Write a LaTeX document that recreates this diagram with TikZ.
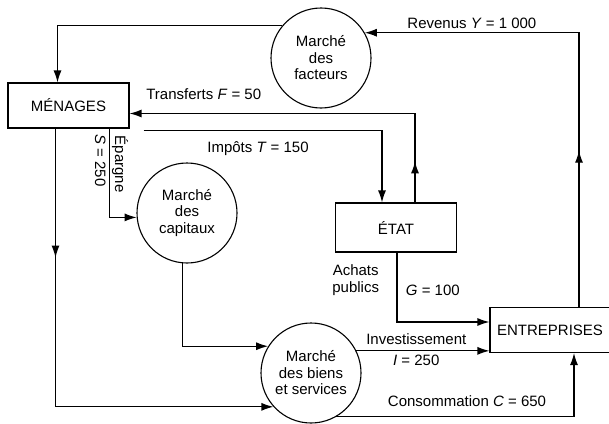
\documentclass[tikz,border=0pt]{standalone}
\usepackage{fontspec}
\setmainfont{Liberation Sans}
\usepackage{tikz}
\usetikzlibrary{shapes.geometric, arrows.meta, positioning, decorations.markings}

\begin{document}
\begin{tikzpicture}[x=1pt, y=-1pt, font=\fontsize{15}{16.5}\selectfont]
\tikzstyle{agent} = [rectangle, draw=black, line width=1.1pt, minimum width=121pt, minimum height=45pt, text centered]
\tikzstyle{market} = [circle, draw=black, line width=1.1pt, minimum size=100pt, align=center, inner sep=0pt]
\tikzstyle{flow} = [line width=1.2pt, -{Latex[length=12pt,width=8pt]}]
\tikzset{midarrow/.style={postaction={decorate}, decoration={markings, mark=at position #1 with {\arrow{Latex[length=12pt,width=8pt]}}}}}

\useasboundingbox (0,0) rectangle (609,423);

\node (menages) [agent] at (68.5,105.5) {MÉNAGES};
\node (facteurs) [market] at (321,58) {Marché\\des\\facteurs};
\node (capitaux) [market] at (187,213) {Marché\\des\\capitaux};
\node (biens) [market] at (311,373) {Marché\\des biens\\et services};
\node (etat) [agent, minimum height=49pt] at (396,227.5) {ÉTAT};
\node (entreprises) [agent, minimum width=120pt] at (550,330) {ENTREPRISES};

\draw [flow] (facteurs.140) -| ([xshift=-11pt]menages.north);
\draw [flow, midarrow=0.32] ([xshift=29pt]entreprises.north) |- node[pos=0.75, above] {Revenus \textit{Y} = 1 000} (facteurs.30);
\draw [flow, midarrow=0.11] ([xshift=19pt]etat.north) |- node[pos=0.87, above=10pt] {Transferts \textit{F} = 50} ([yshift=-8pt]menages.east);
\draw [flow] ([xshift=14pt, yshift=-2pt]menages.south east) -| node[pos=0.24, below=7pt] {Impôts \textit{T} = 150} ([xshift=-14pt]etat.north);
\draw [flow] ([xshift=41pt]menages.south) |- node[pos=0.2, rotate=-90, anchor=south, inner sep=2pt] {Épargne} node[pos=0.18, rotate=-90, anchor=north] {\textit{S} = 250} (capitaux.185);
\draw [flow, midarrow=0.26] ([xshift=-13pt]menages.south) |- (biens.222);
\draw [flow] (capitaux.265) |- (biens.148);
\draw [flow] (biens.-60) -| node[pos=0.275, above=6pt] {Consommation \textit{C} = 650} ([xshift=24pt]entreprises.south);
\draw [flow] (biens.26) -- node[pos=0.45, above=2pt] {Investissement} node[pos=0.45, below] {\textit{I} = 250} (biens.26 -| entreprises.west);
\draw [flow] ([xshift=1pt]etat.south) |- node[pos=0.2, left=14pt, align=center] {Achats\\publics} node[pos=0.27, right=5pt] {\textit{G} = 100} ([yshift=8pt]entreprises.west);
\end{tikzpicture}
\end{document}
